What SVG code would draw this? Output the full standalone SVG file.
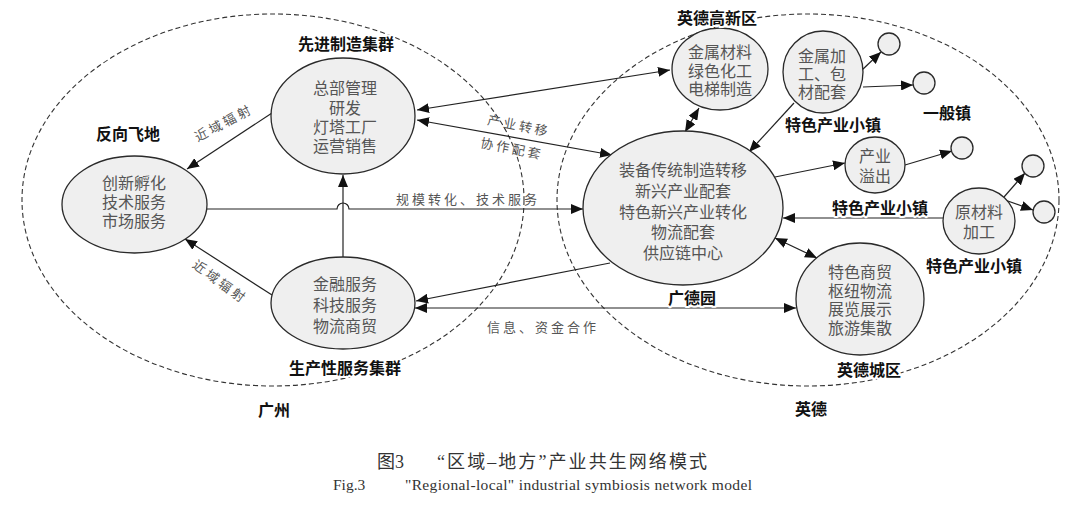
<svg xmlns="http://www.w3.org/2000/svg" width="1080" height="509" viewBox="0 0 1080 509">
<style>
.reg{fill:none;stroke:#333;stroke-width:1.1;stroke-dasharray:5 3}
.node{fill:#efefef;stroke:#2a2a2a;stroke-width:1.3}
.nt{font-family:"Liberation Serif","Noto Sans CJK SC",sans-serif;font-size:16px;fill:#555;text-anchor:middle;dominant-baseline:central}
.lb{font-family:"Noto Sans CJK SC",sans-serif;font-size:16px;font-weight:bold;fill:#111;text-anchor:middle;dominant-baseline:central;paint-order:stroke;stroke:#fff;stroke-width:4px;stroke-linejoin:round}
.cl{font-family:"Liberation Serif","Noto Sans CJK SC",sans-serif;font-size:13px;fill:#555;letter-spacing:3px;text-anchor:middle;dominant-baseline:central}
.cn{fill:none;stroke:#222;stroke-width:1.2}
.cap{font-family:"Liberation Serif","Noto Sans CJK SC",serif;fill:#333}
</style>
<defs>
<marker id="ah" viewBox="0 0 12 10" refX="12" refY="5" markerWidth="12" markerHeight="10" markerUnits="userSpaceOnUse" orient="auto-start-reverse">
<path d="M0,0 L12,5 L0,10 z" fill="#111"/>
</marker>
</defs>
<rect width="1080" height="509" fill="#fff"/>

<g id="region-guangzhou">
<ellipse class="reg" cx="273" cy="200" rx="251" ry="186"/>
<text class="lb" x="274" y="409">广州</text>
</g>
<g id="region-yingde">
<ellipse class="reg" cx="808" cy="200" rx="251" ry="186"/>
<text class="lb" x="811" y="408">英德</text>
</g>

<g id="connectors">
<line class="cn" x1="272" y1="113" x2="187" y2="169" marker-end="url(#ah)"/>
<line class="cn" x1="272" y1="295" x2="185" y2="239" marker-end="url(#ah)"/>
<line class="cn" x1="343" y1="257" x2="343" y2="175" marker-end="url(#ah)"/>
<path class="cn" d="M207,209 H337 A6,6 0 0 1 349,209 H583" marker-end="url(#ah)"/>
<line class="cn" x1="417" y1="110" x2="670" y2="70" marker-start="url(#ah)" marker-end="url(#ah)"/>
<line class="cn" x1="417" y1="120" x2="612" y2="155" marker-start="url(#ah)" marker-end="url(#ah)"/>
<line class="cn" x1="699" y1="108" x2="685" y2="132" marker-start="url(#ah)" marker-end="url(#ah)"/>
<line class="cn" x1="794" y1="103" x2="749" y2="152" marker-end="url(#ah)"/>
<line class="cn" x1="862" y1="70" x2="881" y2="52" marker-end="url(#ah)"/>
<line class="cn" x1="863" y1="87" x2="913" y2="85" marker-end="url(#ah)"/>
<line class="cn" x1="775" y1="177" x2="845" y2="163" marker-end="url(#ah)"/>
<line class="cn" x1="905" y1="165" x2="952" y2="151" marker-end="url(#ah)"/>
<line class="cn" x1="943" y1="218" x2="783" y2="218" marker-end="url(#ah)"/>
<line class="cn" x1="1004" y1="197" x2="1025" y2="173" marker-end="url(#ah)"/>
<line class="cn" x1="1005" y1="200" x2="1033" y2="210" marker-end="url(#ah)"/>
<line class="cn" x1="610" y1="263" x2="416" y2="301" marker-end="url(#ah)"/>
<line class="cn" x1="415" y1="308" x2="796" y2="308" marker-start="url(#ah)" marker-end="url(#ah)"/>
<line class="cn" x1="775" y1="238" x2="817" y2="258" marker-start="url(#ah)" marker-end="url(#ah)"/>
<text class="cl" transform="translate(224,123) rotate(-28)">近域辐射</text>
<text class="cl" transform="translate(220,282) rotate(36)">近域辐射</text>
<text class="cl" transform="translate(519,126) rotate(11)">产业转移</text>
<text class="cl" transform="translate(512,149) rotate(11)">协作配套</text>
<text class="cl" x="468" y="199">规模转化、技术服务</text>
<text class="cl" x="543" y="327">信息、资金合作</text>
</g>

<g id="n-fanxiang">
<ellipse class="node" cx="134.5" cy="204.5" rx="72.5" ry="48.5"/>
<text class="nt" x="134" y="183">创新孵化</text>
<text class="nt" x="134" y="202">技术服务</text>
<text class="nt" x="134" y="221">市场服务</text>
<text class="lb" x="128" y="133">反向飞地</text>
</g>

<g id="n-xianjin">
<ellipse class="node" cx="343" cy="116" rx="72" ry="58"/>
<text class="nt" x="345" y="88">总部管理</text>
<text class="nt" x="345" y="108">研发</text>
<text class="nt" x="345" y="127">灯塔工厂</text>
<text class="nt" x="345" y="146">运营销售</text>
<text class="lb" x="346" y="43">先进制造集群</text>
</g>

<g id="n-shengchan">
<ellipse class="node" cx="343" cy="303" rx="72" ry="46"/>
<text class="nt" x="345" y="284">金融服务</text>
<text class="nt" x="345" y="305">科技服务</text>
<text class="nt" x="345" y="326">物流商贸</text>
<text class="lb" x="345" y="367">生产性服务集群</text>
</g>

<g id="n-guangdeyuan">
<ellipse class="node" cx="683" cy="208" rx="100" ry="77"/>
<text class="nt" x="683" y="170">装备传统制造转移</text>
<text class="nt" x="683" y="191">新兴产业配套</text>
<text class="nt" x="683" y="212">特色新兴产业转化</text>
<text class="nt" x="683" y="232">物流配套</text>
<text class="nt" x="683" y="253">供应链中心</text>
<text class="lb" x="692" y="297">广德园</text>
</g>

<g id="n-gaoxin">
<ellipse class="node" cx="720" cy="69" rx="48" ry="41"/>
<text class="nt" x="720" y="52">金属材料</text>
<text class="nt" x="720" y="71">绿色化工</text>
<text class="nt" x="720" y="89">电梯制造</text>
<text class="lb" x="717" y="17">英德高新区</text>
</g>

<g id="n-jinshujiagong">
<ellipse class="node" cx="823" cy="72" rx="40" ry="41"/>
<text class="nt" x="822" y="56" font-size="15.5">金属加</text>
<text class="nt" x="822" y="74" font-size="15.5">工、包</text>
<text class="nt" x="822" y="92" font-size="15.5">材配套</text>
<text class="lb" x="833" y="124">特色产业小镇</text>
</g>

<g id="n-chanyeyichu">
<ellipse class="node" cx="875" cy="165" rx="30" ry="28"/>
<text class="nt" x="875" y="156">产业</text>
<text class="nt" x="875" y="176">溢出</text>
<text class="lb" x="880" y="207">特色产业小镇</text>
</g>

<g id="n-yuancailiao">
<ellipse class="node" cx="979" cy="221" rx="36" ry="33"/>
<text class="nt" x="979" y="212">原材料</text>
<text class="nt" x="979" y="232">加工</text>
<text class="lb" x="974" y="265">特色产业小镇</text>
</g>

<g id="n-yingdecheng">
<ellipse class="node" cx="860" cy="299" rx="64" ry="56"/>
<text class="nt" x="860" y="272">特色商贸</text>
<text class="nt" x="860" y="291">枢纽物流</text>
<text class="nt" x="860" y="309">展览展示</text>
<text class="nt" x="860" y="328">旅游集散</text>
<text class="lb" x="869" y="369">英德城区</text>
</g>

<g id="n-town1"><circle class="node" cx="889" cy="44" r="11"/></g>
<g id="n-town2"><circle class="node" cx="924" cy="83" r="11"/></g>
<g id="n-town-label"><text class="lb" x="947" y="112">一般镇</text></g>
<g id="n-town3"><circle class="node" cx="962" cy="148" r="11"/></g>
<g id="n-town4"><circle class="node" cx="1033" cy="166" r="11"/></g>
<g id="n-town5"><circle class="node" cx="1044" cy="212" r="11"/></g>

<g id="caption">
<text class="cap" x="377" y="468" font-size="18">图3</text>
<text class="cap" x="437" y="468" font-size="18" textLength="270" lengthAdjust="spacing">“区域–地方”产业共生网络模式</text>
<text class="cap" x="333" y="490" font-size="15.5">Fig.3</text>
<text class="cap" x="405" y="490" font-size="15.5" textLength="347" lengthAdjust="spacing">"Regional-local" industrial symbiosis network model</text>
</g>
</svg>
